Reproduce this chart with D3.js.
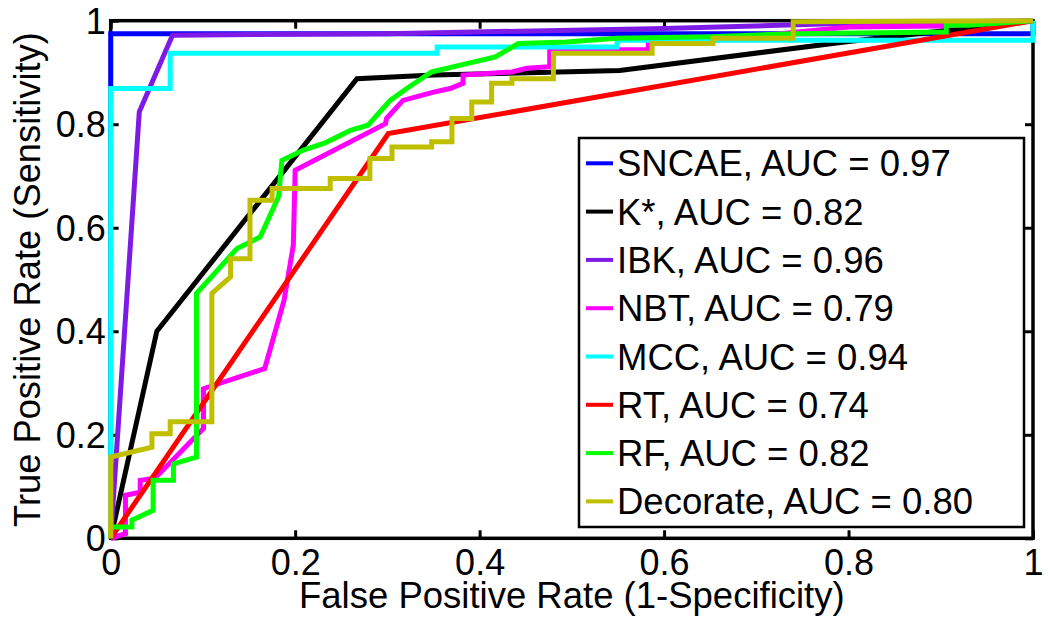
<!DOCTYPE html>
<html><head><meta charset="utf-8">
<script src="https://cdn.jsdelivr.net/npm/d3@7"></script>
<style>
html,body{margin:0;padding:0;background:#fff;}
svg text{font-family:"Liberation Sans",Arial,sans-serif;fill:#000;}
</style></head>
<body><svg id="c" width="1051" height="624"></svg>
<script>
const seriesNames = ["SNCAE","K*","IBK","NBT","MCC","RT","RF","Decorate"];
const aucValues = ["0.97","0.82","0.96","0.79","0.94","0.74","0.82","0.80"];
const seriesColors = ["#0000FF","#000000","#7E1AE6","#FF00FF","#00FFFF","#FF0000","#00FF00","#BFBF00"];
const xTicks = [0,0.2,0.4,0.6,0.8,1];
const yTicks = [0,0.2,0.4,0.6,0.8,1];
const xTickLabels = ["0","0.2","0.4","0.6","0.8","1"];
const yTickLabels = ["0","0.2","0.4","0.6","0.8","1"];

const rocSNCAE = [[0,0],[0,0.975],[1,0.975],[1,1]];
const rocKstar = [[0,0],[0.05,0.40],[0.267,0.888],[0.35,0.895],[0.552,0.904],[0.8,0.96],[1,1]];
const rocIBK = [[0,0],[0.031,0.824],[0.067,0.972],[0.3,0.975],[0.6,0.985],[0.8,0.995],[1,1]];
const rocNBT = [[0,0],[0.016,0.009],[0.016,0.083],[0.032,0.089],[0.032,0.112],[0.048,0.116],[0.1006,0.212],[0.1006,0.289],[0.167,0.328],[0.188,0.46],[0.198,0.566],[0.2,0.711],[0.298,0.801],[0.299,0.811],[0.317,0.846],[0.35,0.862],[0.368,0.869],[0.382,0.879],[0.382,0.895],[0.435,0.901],[0.451,0.908],[0.476,0.911],[0.476,0.944],[0.583,0.944],[0.583,0.956],[0.62,0.956],[0.8,0.988],[0.9,0.99],[1,1]];
const rocMCC = [[0,0],[0,0.869],[0.0645,0.869],[0.0645,0.937],[0.354,0.937],[0.354,0.949],[0.549,0.949],[0.549,0.962],[1,0.962],[1,1]];
const rocRT = [[0,0],[0.301,0.782],[1,1]];
const rocRF = [[0,0],[0,0.022],[0.023,0.022],[0.023,0.035],[0.046,0.054],[0.046,0.112],[0.068,0.112],[0.068,0.144],[0.093,0.157],[0.093,0.473],[0.137,0.56],[0.162,0.582],[0.182,0.66],[0.1856,0.73],[0.209,0.75],[0.2325,0.764],[0.26,0.788],[0.279,0.798],[0.303,0.846],[0.321,0.869],[0.348,0.901],[0.386,0.917],[0.417,0.930],[0.442,0.956],[0.494,0.959],[0.549,0.966],[0.65,0.969],[0.74,0.975],[0.906,0.978],[0.906,0.991],[0.93,0.991],[1,1]];
const rocDecorate = [[0,0],[0,0.157],[0.0447,0.176],[0.0447,0.202],[0.0645,0.202],[0.0645,0.225],[0.1097,0.225],[0.1097,0.473],[0.13,0.505],[0.13,0.540],[0.151,0.540],[0.151,0.653],[0.175,0.653],[0.175,0.676],[0.238,0.676],[0.238,0.695],[0.281,0.695],[0.281,0.734],[0.305,0.734],[0.305,0.756],[0.348,0.756],[0.348,0.766],[0.37,0.766],[0.37,0.811],[0.3915,0.811],[0.3915,0.843],[0.413,0.843],[0.413,0.879],[0.435,0.879],[0.435,0.888],[0.48,0.888],[0.48,0.937],[0.587,0.937],[0.587,0.956],[0.653,0.956],[0.653,0.966],[0.74,0.966],[0.74,0.998],[1,1]];

const rocData = [rocSNCAE,rocKstar,rocIBK,rocNBT,rocMCC,rocRT,rocRF,rocDecorate];

const svg = d3.select("#c");
const L = 110.7, R = 1033, T = 20.7, B = 538.3;
const x = d3.scaleLinear().domain([0,1]).range([L,R]);
const y = d3.scaleLinear().domain([0,1]).range([B,T]);
const FS = 36;

const axStroke = 3.5, tickLen = 8;
const gAx = svg.append("g");
const axB = gAx.append("g").attr("transform",`translate(0,${B})`)
  .call(d3.axisBottom(x).tickValues(xTicks).tickSize(-tickLen).tickFormat((d,i)=>xTickLabels[i]).tickPadding(0));
const axT = gAx.append("g").attr("transform",`translate(0,${T})`)
  .call(d3.axisTop(x).tickValues(xTicks).tickSize(-tickLen).tickFormat(""));
const axL = gAx.append("g").attr("transform",`translate(${L},0)`)
  .call(d3.axisLeft(y).tickValues(yTicks).tickSize(-tickLen).tickFormat((d,i)=>yTickLabels[i]).tickPadding(0));
const axR = gAx.append("g").attr("transform",`translate(${R},0)`)
  .call(d3.axisRight(y).tickValues(yTicks).tickSize(-tickLen).tickFormat(""));
[axB,axT,axL,axR].forEach(g=>{
  g.select(".domain").remove();
  g.selectAll(".tick line").attr("stroke","#000").attr("stroke-width",3);
});
axB.selectAll(".tick text").attr("font-size",FS).attr("y",37).attr("dy",null)
  .attr("font-family","Liberation Sans, Arial, sans-serif");
axL.selectAll(".tick text").attr("font-size",FS).attr("x",-5).attr("dy","0.35em")
  .attr("font-family","Liberation Sans, Arial, sans-serif");
gAx.append("rect").attr("x",L).attr("y",T).attr("width",R-L).attr("height",B-T)
  .attr("fill","none").attr("stroke","#000").attr("stroke-width",axStroke);

svg.append("text").attr("x",(L+R)/2).attr("y",608).attr("text-anchor","middle")
  .attr("font-size",36.5).text("False Positive Rate (1-Specificity)");
svg.append("text").attr("transform",`translate(40,${(T+B)/2}) rotate(-90)`).attr("text-anchor","middle")
  .attr("font-size",36.3).text("True Positive Rate (Sensitivity)");

const line = d3.line().x(d=>x(d[0])).y(d=>y(d[1]));
rocData.forEach((s,i)=>{
  svg.append("path").attr("d",line(s)).attr("fill","none")
    .attr("stroke",seriesColors[i]).attr("stroke-width",5)
    .attr("stroke-linejoin","miter").attr("stroke-linecap","butt");
});

const lg = svg.append("g");
lg.append("rect").attr("x",579).attr("y",138).attr("width",1024-579).attr("height",527-138)
  .attr("fill","#fff").attr("stroke","#000").attr("stroke-width",2.5);
seriesNames.forEach((n,i)=>{
  const yy = 163.3 + i*48.3;
  lg.append("line").attr("x1",586).attr("x2",613).attr("y1",yy).attr("y2",yy)
    .attr("stroke",seriesColors[i]).attr("stroke-width",4);
  lg.append("text").attr("x",617).attr("y",yy+13).attr("font-size",36.5)
    .text(`${n}, AUC = ${aucValues[i]}`);
});
</script></body></html>
